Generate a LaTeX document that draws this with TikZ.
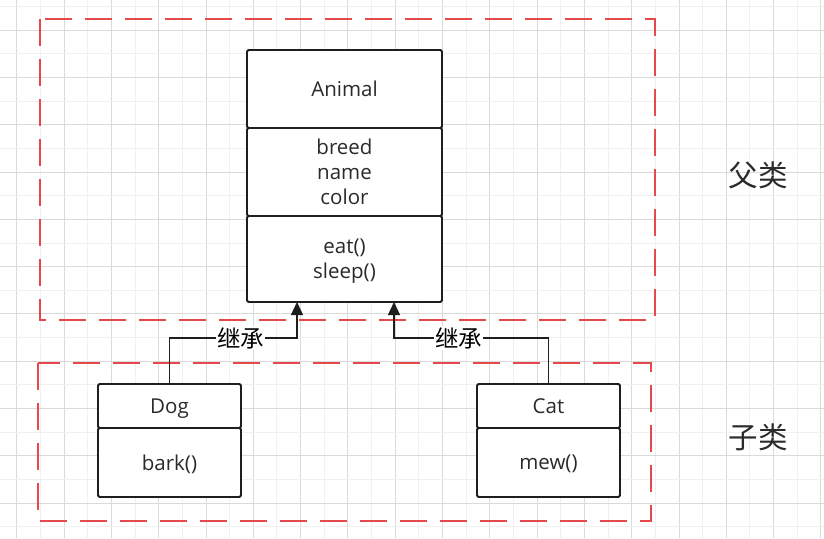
\documentclass[tikz,border=0pt]{standalone}
\usepackage{fontspec}
\setmainfont{Open Sans}
\newfontfamily\cjk{Noto Sans CJK SC}
\usepackage{xcolor}
\usetikzlibrary{arrows.meta,positioning,calc}
\definecolor{inkc}{HTML}{1E1E1E}
\definecolor{textc}{HTML}{2A2A2A}
\definecolor{dashc}{HTML}{E5484D}
\definecolor{gridmin}{HTML}{F0F0F0}
\definecolor{gridmaj}{HTML}{DADADA}
\tikzset{
  cell/.style={draw=inkc,line width=1.8pt,fill=white,rounded corners=1.5pt,outer sep=0pt,inner sep=0pt,align=center,text=textc,text depth=-3pt,font=\fontsize{20.5}{25}\selectfont},
  group/.style={dashc,line width=1.8pt,dash pattern=on 27pt off 13pt},
  inh/.style={-{Triangle[length=13pt,width=12pt]},inkc,line width=1.3pt},
  lbl/.style={fill=white,inner sep=1pt,font=\cjk\fontsize{23.5}{23.5}\selectfont,text=black},
  tag/.style={font=\cjk\fontsize{29.5}{29.5}\selectfont,text=textc}
}

\begin{document}
\begin{tikzpicture}[x=1pt,y=-1pt]
\useasboundingbox (0,0) rectangle (824,538);
% grid
\foreach \i in {0,...,34}{
  \pgfmathsetmacro\gx{16.7+23.65*\i}
  \ifodd\i \def\gc{gridmin}\else\def\gc{gridmaj}\fi
  \draw[\gc,line width=0.8pt] (\gx,0) -- (\gx,538);
}
\foreach \j in {0,...,22}{
  \pgfmathsetmacro\gy{6.4+23.65*\j}
  \ifodd\j \def\gc{gridmaj}\else\def\gc{gridmin}\fi
  \draw[\gc,line width=0.8pt] (0,\gy) -- (824,\gy);
}
% groups
\draw[group] (40,19) rectangle (655,320);
\draw[group] (38,363) rectangle (651,521);
\node[tag] (parent) at (758,175) {父类};
\node[tag] (child) at (758,437) {子类};
% parent class
\node[cell,minimum width=195pt,minimum height=78pt] (animal) at (344.5,89) {Animal};
\node[cell,minimum width=195pt,minimum height=88pt,below=0pt of animal] (animalattr) {breed\\name\\color};
\node[cell,minimum width=195pt,minimum height=86pt,below=0pt of animalattr] (animalops) {eat()\\sleep()};
% child classes
\node[cell,minimum width=143pt,minimum height=44pt] (dog) at (169.5,406) {Dog};
\node[cell,minimum width=143pt,minimum height=69pt,below=0pt of dog] (dogops) {bark()};
\node[cell,minimum width=143pt,minimum height=44pt] (cat) at (548.5,406) {Cat};
\node[cell,minimum width=143pt,minimum height=69pt,below=0pt of cat] (catops) {mew()};
% inheritance
\coordinate (dogin) at ($(animalops.south)+(-47.5,0)$);
\coordinate (catin) at ($(animalops.south)+(49.5,0)$);
\draw[inh] (dog.north) |- node[lbl,pos=0.78]{继承} ($(dogin)+(0,36)$) -- (dogin);
\draw[inh] (cat.north) |- node[lbl,pos=0.79]{继承} ($(catin)+(0,36)$) -- (catin);
\end{tikzpicture}
\end{document}
